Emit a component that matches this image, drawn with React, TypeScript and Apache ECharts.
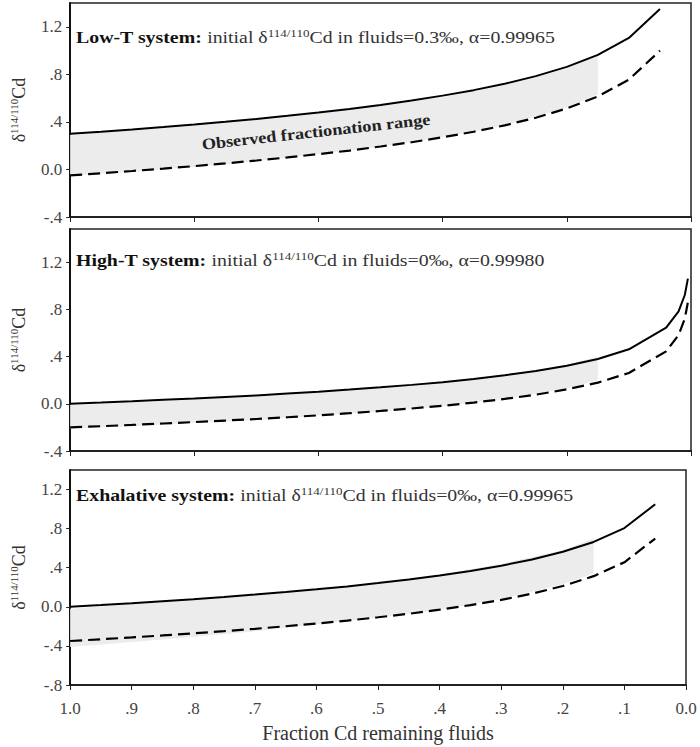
import React, { useEffect, useRef } from "react";
import * as echarts from "echarts";

// Fraction of Cd remaining in fluids
const fMain = [1.0, 0.95, 0.9, 0.85, 0.8, 0.75, 0.7, 0.65, 0.6, 0.55, 0.5, 0.45, 0.4, 0.35, 0.3, 0.25, 0.2, 0.15, 0.1, 0.05];
const fHigh = [1.0, 0.95, 0.9, 0.85, 0.8, 0.75, 0.7, 0.65, 0.6, 0.55, 0.5, 0.45, 0.4, 0.35, 0.3, 0.25, 0.2, 0.15, 0.1, 0.04, 0.02, 0.01, 0.005];

// Low-T system
const lowFluid = [0.300, 0.318, 0.337, 0.357, 0.378, 0.401, 0.425, 0.451, 0.479, 0.509, 0.543, 0.579, 0.621, 0.667, 0.721, 0.785, 0.863, 0.964, 1.106, 1.349];
const lowPrecip = [-0.050, -0.032, -0.013, 0.007, 0.028, 0.051, 0.075, 0.101, 0.129, 0.159, 0.193, 0.229, 0.271, 0.317, 0.371, 0.435, 0.513, 0.614, 0.756, 0.999];

// High-T system
const highFluid = [0.000, 0.010, 0.021, 0.033, 0.045, 0.058, 0.071, 0.086, 0.102, 0.120, 0.139, 0.160, 0.183, 0.210, 0.241, 0.277, 0.322, 0.379, 0.461, 0.644, 0.782, 0.921, 1.060];
const highPrecip = [-0.200, -0.190, -0.179, -0.167, -0.155, -0.142, -0.129, -0.114, -0.098, -0.080, -0.061, -0.040, -0.017, 0.010, 0.041, 0.077, 0.122, 0.179, 0.261, 0.444, 0.582, 0.721, 0.860];

// Exhalative system
const exhFluid = [0.000, 0.018, 0.037, 0.057, 0.078, 0.101, 0.125, 0.151, 0.179, 0.209, 0.243, 0.279, 0.321, 0.367, 0.421, 0.485, 0.563, 0.664, 0.806, 1.049];
const exhPrecip = [-0.350, -0.332, -0.313, -0.293, -0.272, -0.249, -0.225, -0.199, -0.171, -0.141, -0.107, -0.071, -0.029, 0.017, 0.071, 0.135, 0.213, 0.314, 0.456, 0.699];

// Observed fractionation range (shaded band)
const fShade = [1.0, 0.9, 0.8, 0.7, 0.6, 0.5, 0.4, 0.3, 0.2, 0.15];
const lowShadeTop = [0.29, 0.33, 0.37, 0.42, 0.47, 0.535, 0.61, 0.71, 0.85, 0.97];
const lowShadeBot = [-0.05, -0.02, 0.02, 0.07, 0.13, 0.19, 0.27, 0.37, 0.52, 0.63];
const highShadeTop = [-0.01, 0.01, 0.04, 0.06, 0.10, 0.135, 0.18, 0.24, 0.33, 0.40];
const highShadeBot = [-0.21, -0.19, -0.16, -0.14, -0.10, -0.065, -0.02, 0.04, 0.13, 0.20];
const exhShadeTop = [-0.02, 0.03, 0.07, 0.12, 0.18, 0.25, 0.33, 0.44, 0.58, 0.70];
const exhShadeBot = [-0.41, -0.36, -0.31, -0.25, -0.18, -0.11, -0.03, 0.08, 0.23, 0.34];

// Tick labels
const yTicksTop = [-0.4, 0, 0.4, 0.8, 1.2];
const yTicksBottom = [-0.8, -0.4, 0, 0.4, 0.8, 1.2];

const titles = [
  "{b|Low-T system:} initial δ{s|114/110}Cd in fluids=0.3‰, α=0.99965",
  "{b|High-T system:} initial δ{s|114/110}Cd in fluids=0‰, α=0.99980",
  "{b|Exhalative system:} initial δ{s|114/110}Cd in fluids=0‰, α=0.99965",
];
const rangeLabel = "Observed fractionation range";
const xName = "Fraction Cd remaining fluids";
const yName = "δ{s|114/110}Cd";

const FONT = "'Liberation Serif', 'Times New Roman', serif";

const fmtY = (v: number) => {
  if (Math.abs(v) < 1e-9) return "0.0";
  const s = Math.abs(v).toFixed(1).replace(/^0/, "");
  return (v < 0 ? "-" : "") + s;
};
const fmtX = (v: number) => {
  if (Math.abs(v - 1) < 1e-9) return "1.0";
  if (Math.abs(v) < 1e-9) return "0.0";
  return "." + Math.round(v * 10);
};

function pairs(xs: number[], ys: number[]) {
  return xs.map((x, i) => [x, ys[i]]);
}

function shade(idx: number, xs: number[], top: number[], bot: number[]) {
  return {
    type: "custom",
    xAxisIndex: idx,
    yAxisIndex: idx,
    z: 1,
    silent: true,
    data: xs.map((x, i) => [x, top[i], bot[i]]),
    encode: { x: 0, y: [1, 2] },
    renderItem: (params: any, api: any) => {
      if (params.dataIndex !== 0) return null;
      const pts: number[][] = [];
      for (let i = 0; i < xs.length; i++) pts.push(api.coord([xs[i], top[i]]));
      for (let i = xs.length - 1; i >= 0; i--) pts.push(api.coord([xs[i], bot[i]]));
      return { type: "polygon", shape: { points: pts }, style: { fill: "#ececec" } };
    },
  };
}

function line(idx: number, xs: number[], ys: number[], dashed: boolean) {
  return {
    type: "line",
    xAxisIndex: idx,
    yAxisIndex: idx,
    z: 3,
    symbol: "none",
    silent: true,
    data: pairs(xs, ys),
    lineStyle: { color: "#000", width: dashed ? 2.2 : 2, type: dashed ? [12, 6] : "solid" },
  };
}

const grids = [
  { left: 70, top: 3, width: 621, height: 214 },
  { left: 70, top: 229, width: 621, height: 222 },
  { left: 70, top: 470, width: 616, height: 215 },
];

function xAxis(idx: number) {
  const bottom = idx === 2;
  return {
    type: "value",
    gridIndex: idx,
    min: 0,
    max: 1,
    inverse: true,
    interval: bottom ? 0.1 : 0.2,
    splitLine: { show: false },
    axisLine: { onZero: false, lineStyle: { color: "#111", width: 1.6 } },
    axisTick: { length: 5, lineStyle: { color: "#222", width: 1 } },
    axisLabel: {
      show: bottom,
      formatter: fmtX,
      margin: 15,
      fontFamily: FONT,
      fontSize: 17,
      color: "#444",
    },
    name: bottom ? xName : "",
    nameLocation: "middle",
    nameGap: 38,
    nameTextStyle: { fontFamily: FONT, fontSize: 20, color: "#333" },
  };
}

function yAxis(idx: number) {
  const bottom = idx === 2;
  const ticks = bottom ? yTicksBottom : yTicksTop;
  return {
    type: "value",
    gridIndex: idx,
    min: bottom ? -0.8 : -0.4,
    max: idx === 1 ? 1.48 : 1.4,
    splitLine: { show: false },
    axisLine: { onZero: false, lineStyle: { color: "#111", width: 2 } },
    axisTick: { length: 4, customValues: ticks, lineStyle: { color: "#222", width: 1 } },
    axisLabel: {
      customValues: ticks,
      formatter: fmtY,
      margin: 8,
      fontFamily: FONT,
      fontSize: 17,
      color: "#444",
    },
    name: yName,
    nameLocation: "middle",
    nameGap: 32,
    nameRotate: 90,
    nameTextStyle: {
      fontFamily: FONT,
      fontSize: 18,
      color: "#333",
      lineHeight: 22,
      rich: { s: { fontFamily: FONT, fontSize: 11, lineHeight: 13, verticalAlign: "top", color: "#333" } },
    },
  };
}

const titleY = [38, 261, 496];

const option: any = {
  animation: false,
  backgroundColor: "#fff",
  grid: grids.map((g) => ({ ...g, show: true, borderColor: "#222", borderWidth: 1.5, backgroundColor: "transparent" })),
  xAxis: [0, 1, 2].map(xAxis),
  yAxis: [0, 1, 2].map(yAxis),
  graphic: [
    ...titles.map((t, i) => ({
      type: "text",
      x: 76,
      y: titleY[i],
      scaleX: 1.24,
      z: 10,
      style: {
        text: t,
        fontFamily: FONT,
        fontSize: 16,
        fill: "#333",
        textAlign: "left",
        textVerticalAlign: "middle",
        lineHeight: 20,
        rich: {
          b: { fontFamily: FONT, fontSize: 16, fontWeight: "bold", fill: "#111", lineHeight: 20 },
          s: { fontFamily: FONT, fontSize: 10.5, lineHeight: 12, verticalAlign: "top", fill: "#333" },
        },
      },
    })),
    {
      type: "text",
      x: 316,
      y: 132,
      rotation: 0.11,
      scaleX: 1.14,
      z: 10,
      style: {
        text: rangeLabel,
        font: `bold 16px ${FONT}`,
        fill: "#222",
        textAlign: "center",
        textVerticalAlign: "middle",
      },
    },
  ],
  series: [
    shade(0, fShade, lowShadeTop, lowShadeBot),
    line(0, fMain, lowFluid, false),
    line(0, fMain, lowPrecip, true),
    shade(1, fShade, highShadeTop, highShadeBot),
    line(1, fHigh, highFluid, false),
    line(1, fHigh, highPrecip, true),
    shade(2, fShade, exhShadeTop, exhShadeBot),
    line(2, fMain, exhFluid, false),
    line(2, fMain, exhPrecip, true),
  ],
};

export default function App() {
  const ref = useRef<HTMLDivElement>(null);
  useEffect(() => {
    if (!ref.current) return;
    const chart = echarts.init(ref.current, null, { renderer: "svg" });
    chart.setOption(option);
    return () => chart.dispose();
  }, []);
  return (
    <div
      ref={ref}
      style={{ position: "absolute", left: 0, top: 0, width: 700, height: 747, background: "#fff" }}
    />
  );
}
